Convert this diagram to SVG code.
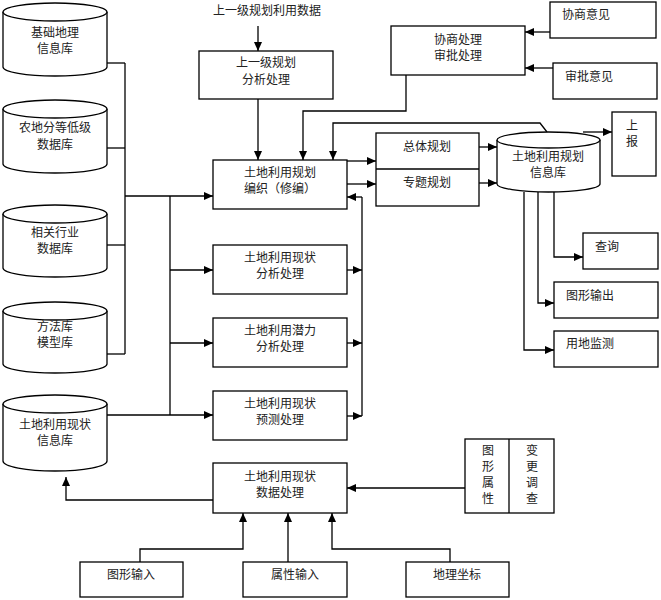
<svg xmlns="http://www.w3.org/2000/svg" width="661" height="600" viewBox="0 0 661 600">
<defs>
<marker id="ar" markerUnits="userSpaceOnUse" markerWidth="10" markerHeight="9" refX="9" refY="4" orient="auto">
<path d="M0,0 L9,4 L0,8 z" fill="#000"/>
</marker>
<style>
.b{fill:#fff;stroke:#000;stroke-width:1.3}
.t{font-family:"Noto Sans CJK SC","Noto Sans",sans-serif;font-size:12px;fill:#222;text-anchor:middle}
.tl{font-family:"Noto Sans CJK SC","Noto Sans",sans-serif;font-size:12px;fill:#222}
.c path,.c polyline,.c line{fill:none;stroke:#000;stroke-width:1.3}
.a{marker-end:url(#ar)}
</style>
</defs>
<rect width="661" height="600" fill="#fff"/>

<g class="c" id="connectors">
<polyline points="107,63 125,63"/>
<polyline points="107,148 125,148"/>
<polyline points="107,245 125,245"/>
<polyline points="107,354 125,354"/>
<polyline points="125,63 125,354"/>
<polyline class="a" points="125,196 213,196"/>
<polyline points="170,196 170,415"/>
<polyline class="a" points="170,270 213,270"/>
<polyline class="a" points="170,343 213,343"/>
<polyline class="a" points="107,415 213,415"/>
<polyline class="a" points="347,270 362,270"/>
<polyline class="a" points="347,343 362,343"/>
<polyline class="a" points="347,416 362,416"/>
<polyline points="362,197 362,416"/>
<polyline class="a" points="362,197 347,197"/>
<polyline class="a" points="258,26 258,51"/>
<polyline class="a" points="258,99 258,160"/>
<polyline class="a" points="406,75 406,111 303,111 303,160"/>
<polyline class="a" points="547,132 540,123 333,123 333,160"/>
<polyline class="a" points="347,161 376,161"/>
<polyline class="a" points="347,184 376,184"/>
<polyline class="a" points="479,147 497,147"/>
<polyline class="a" points="479,183 497,183"/>
<polyline class="a" points="583,132 612,132"/>
<polyline class="a" points="550,32 525,32"/>
<polyline class="a" points="553,68 525,68"/>
<polyline class="a" points="554,191 554,257 583,257"/>
<polyline class="a" points="538,192 538,303 554,303"/>
<polyline class="a" points="524,192 524,350 554,350"/>
<polyline class="a" points="213,500 66,500 66,477"/>
<polyline class="a" points="140,562 140,549 243,549 243,513"/>
<polyline class="a" points="288,562 288,513"/>
<polyline class="a" points="450,562 450,549 332,549 332,513"/>
<polyline class="a" points="465,488 347,488"/>
</g>

<g id="cyl1">
<path class="b" d="M3,12 L3,67 A52,9 0 0 0 107,67 L107,12"/>
<ellipse class="b" cx="55" cy="12" rx="52" ry="9"/>
<text class="t" x="55" y="37">基础地理</text>
<text class="t" x="55" y="53">信息库</text>
</g>
<g id="cyl2">
<path class="b" d="M3,109 L3,164 A52,9 0 0 0 107,164 L107,109"/>
<ellipse class="b" cx="55" cy="109" rx="52" ry="9"/>
<text class="t" x="55" y="132">农地分等低级</text>
<text class="t" x="55" y="149">数据库</text>
</g>
<g id="cyl3">
<path class="b" d="M3,214 L3,268 A52,9 0 0 0 107,268 L107,214"/>
<ellipse class="b" cx="55" cy="214" rx="52" ry="9"/>
<text class="t" x="55" y="237">相关行业</text>
<text class="t" x="55" y="253">数据库</text>
</g>
<g id="cyl4">
<path class="b" d="M3,311 L3,364 A52,9 0 0 0 107,364 L107,311"/>
<ellipse class="b" cx="55" cy="311" rx="52" ry="9"/>
<text class="t" x="55" y="331">方法库</text>
<text class="t" x="55" y="347">模型库</text>
</g>
<g id="cyl5">
<path class="b" d="M3,404 L3,461 A52,10 0 0 0 107,461 L107,404"/>
<ellipse class="b" cx="55" cy="404" rx="52" ry="9"/>
<text class="t" x="55" y="429">土地利用现状</text>
<text class="t" x="55" y="445">信息库</text>
</g>

<g id="topdata">
<text class="t" x="267" y="15">上一级规划利用数据</text>
</g>
<g id="upper">
<rect class="b" x="199" y="51" width="134" height="48"/>
<text class="t" x="266" y="67">上一级规划</text>
<text class="t" x="266" y="84">分析处理</text>
</g>
<g id="edit">
<rect class="b" x="213" y="160" width="134" height="49"/>
<text class="t" x="280" y="177">土地利用规划</text>
<text class="t" x="280" y="193">编织（修编）</text>
</g>
<g id="xiesh">
<rect class="b" x="391" y="26" width="134" height="49"/>
<text class="t" x="458" y="44">协商处理</text>
<text class="t" x="458" y="60">审批处理</text>
</g>
<g id="xsyj">
<rect class="b" x="550" y="2" width="106" height="36"/>
<text class="tl" x="562" y="19">协商意见</text>
</g>
<g id="spyj">
<rect class="b" x="553" y="63" width="104" height="36"/>
<text class="tl" x="565" y="81">审批意见</text>
</g>
<g id="shangbao">
<rect class="b" x="612" y="112" width="44" height="64"/>
<text class="t" x="632" y="130">上</text>
<text class="t" x="632" y="146">报</text>
</g>
<g id="plans">
<rect class="b" x="376" y="133" width="103" height="73"/>
<line x1="376" y1="169" x2="479" y2="169" stroke="#000" stroke-width="1.3"/>
<text class="t" x="427" y="151">总体规划</text>
<text class="t" x="427" y="187">专题规划</text>
</g>
<g id="plandb">
<path class="b" d="M497,140 L497,184 A51.5,8 0 0 0 600,184 L600,140"/>
<ellipse class="b" cx="548.5" cy="140" rx="51.5" ry="8"/>
<text class="t" x="548" y="161">土地利用规划</text>
<text class="t" x="548" y="177">信息库</text>
</g>
<g id="chaxun">
<rect class="b" x="583" y="233" width="75" height="36"/>
<text class="t" x="607" y="251">查询</text>
</g>
<g id="tuxing">
<rect class="b" x="554" y="282" width="104" height="36"/>
<text class="tl" x="566" y="300">图形输出</text>
</g>
<g id="jiance">
<rect class="b" x="554" y="331" width="104" height="36"/>
<text class="tl" x="566" y="348">用地监测</text>
</g>
<g id="xianzhuang">
<rect class="b" x="213" y="245" width="134" height="49"/>
<text class="t" x="280" y="262">土地利用现状</text>
<text class="t" x="280" y="278">分析处理</text>
</g>
<g id="qianli">
<rect class="b" x="213" y="318" width="134" height="49"/>
<text class="t" x="280" y="335">土地利用潜力</text>
<text class="t" x="280" y="351">分析处理</text>
</g>
<g id="yuce">
<rect class="b" x="213" y="391" width="134" height="49"/>
<text class="t" x="280" y="408">土地利用现状</text>
<text class="t" x="280" y="424">预测处理</text>
</g>
<g id="shuju">
<rect class="b" x="213" y="463" width="134" height="50"/>
<text class="t" x="280" y="481">土地利用现状</text>
<text class="t" x="280" y="497">数据处理</text>
</g>
<g id="biangeng">
<rect class="b" x="465" y="439" width="89" height="74"/>
<line x1="509" y1="439" x2="509" y2="513" stroke="#000" stroke-width="1.3"/>
<text class="t" x="488" y="455">图</text>
<text class="t" x="488" y="471">形</text>
<text class="t" x="488" y="487">属</text>
<text class="t" x="488" y="503">性</text>
<text class="t" x="532" y="455">变</text>
<text class="t" x="532" y="471">更</text>
<text class="t" x="532" y="487">调</text>
<text class="t" x="532" y="503">查</text>
</g>
<g id="txsr">
<rect class="b" x="80" y="562" width="103" height="35"/>
<text class="t" x="131" y="579">图形输入</text>
</g>
<g id="sxsr">
<rect class="b" x="243" y="562" width="104" height="35"/>
<text class="t" x="295" y="579">属性输入</text>
</g>
<g id="dlzb">
<rect class="b" x="406" y="562" width="103" height="35"/>
<text class="t" x="457" y="579">地理坐标</text>
</g>
</svg>
